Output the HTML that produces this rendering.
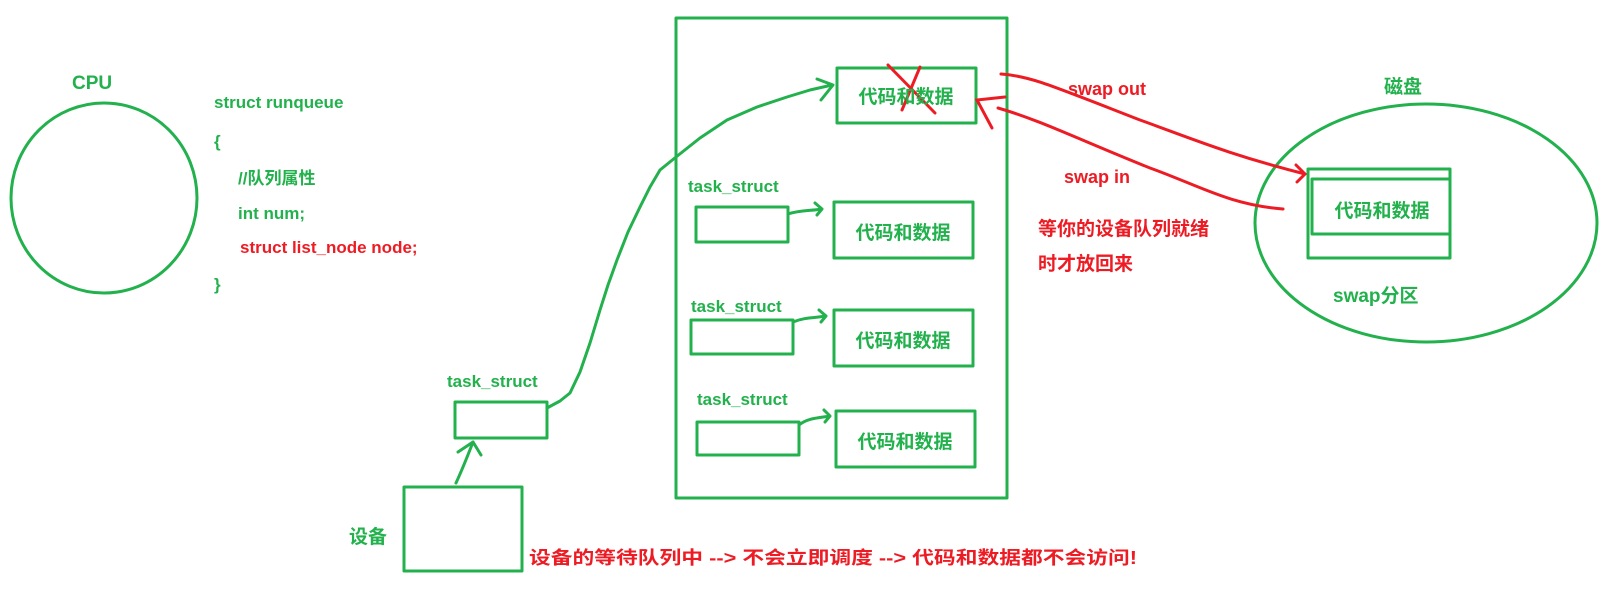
<!DOCTYPE html>
<html><head><meta charset="utf-8"><style>
html,body{margin:0;padding:0;background:#fff;}
svg{display:block;}
text{font-family:"Liberation Sans","Noto Sans CJK SC",sans-serif;font-weight:bold;}
.g{fill:#22b14c;}
.r{fill:#ed1c24;}
</style></head><body>
<svg width="1612" height="597" viewBox="0 0 1612 597" xmlns="http://www.w3.org/2000/svg">
<g fill="none" stroke="#22b14c" stroke-width="3" stroke-linejoin="round" stroke-linecap="round">
<ellipse cx="104" cy="198" rx="93" ry="95"/>
<ellipse cx="1426" cy="223" rx="171" ry="119"/>
<rect x="676" y="18" width="331" height="480"/>
<rect x="837" y="68" width="139" height="55"/>
<rect x="696" y="207" width="92" height="35"/>
<rect x="834" y="202" width="139" height="56"/>
<rect x="691" y="320" width="102" height="34"/>
<rect x="834" y="310" width="139" height="56"/>
<rect x="697" y="422" width="102" height="33"/>
<rect x="836" y="411" width="139" height="56"/>
<rect x="455" y="402" width="92" height="36"/>
<rect x="404" y="487" width="118" height="84"/>
<rect x="1308" y="169" width="142" height="89"/>
<rect x="1312" y="179" width="138" height="55"/>
<polyline points="547,408 560,401 570,393 580,372 590,343 600,310 608,285 617,260 628,232 640,207 650,187 660,170 676,157 700,138 727,120 757,107 787,97 810,90 832,85"/>
<path d="M817,79 L833,85 L821,100"/>
<path d="M788,214 C800,210 810,211 822,209 M815,203 L822,209 L817,215"/>
<path d="M793,322 C805,317 815,318 826,316 M819,310 L826,316 L821,322"/>
<path d="M799,425 C808,418 818,418 830,416 M824,410 L830,416 L825,422"/>
<path d="M456,483 C462,470 468,455 473,442 M458,452 L473,442 L481,455"/>
</g>
<g fill="none" stroke="#ed1c24" stroke-width="3" stroke-linecap="round">
<path d="M888,65 L935,113 M920,67 L902,110"/>
<path d="M1005,97 L977,100 L992,128"/>
<path d="M1001,74 C1030,76 1050,85 1140,120 C1190,138 1230,155 1305,174 M1296,165 L1305,174 L1297,182"/>
<path d="M998,108 C1040,120 1080,140 1150,168 C1200,186 1230,205 1283,209"/>
</g>
<text class="g" x="72" y="89" font-size="19">CPU</text>
<text class="g" x="214" y="108" font-size="17">struct runqueue</text>
<text class="g" x="214" y="147" font-size="17">{</text>
<text class="g" x="238" y="184" font-size="17">//队列属性</text>
<text class="g" x="238" y="219" font-size="17">int num;</text>
<text class="r" x="240" y="253" font-size="17">struct list_node node;</text>
<text class="g" x="214" y="290" font-size="17">}</text>
<g class="g" font-size="19" text-anchor="middle">
<text x="906" y="103">代码和数据</text>
<text x="903" y="239">代码和数据</text>
<text x="903" y="347">代码和数据</text>
<text x="905" y="448">代码和数据</text>
<text x="1382" y="217">代码和数据</text>
</g>
<g class="g" font-size="17">
<text x="688" y="192">task_struct</text>
<text x="691" y="312">task_struct</text>
<text x="697" y="405">task_struct</text>
<text x="447" y="387">task_struct</text>
</g>
<text class="g" x="1333" y="302" font-size="19">swap分区</text>
<text class="g" x="1384" y="93" font-size="19">磁盘</text>
<text class="g" x="349" y="543" font-size="19">设备</text>
<text class="r" x="529" y="564" font-size="18" textLength="608" lengthAdjust="spacingAndGlyphs">设备的等待队列中 --&gt; 不会立即调度 --&gt; 代码和数据都不会访问!</text>
<text class="r" x="1068" y="95" font-size="18">swap out</text>
<text class="r" x="1064" y="183" font-size="18">swap in</text>
<text class="r" x="1038" y="235" font-size="19">等你的设备队列就绪</text>
<text class="r" x="1038" y="270" font-size="19">时才放回来</text>
</svg>
</body></html>
